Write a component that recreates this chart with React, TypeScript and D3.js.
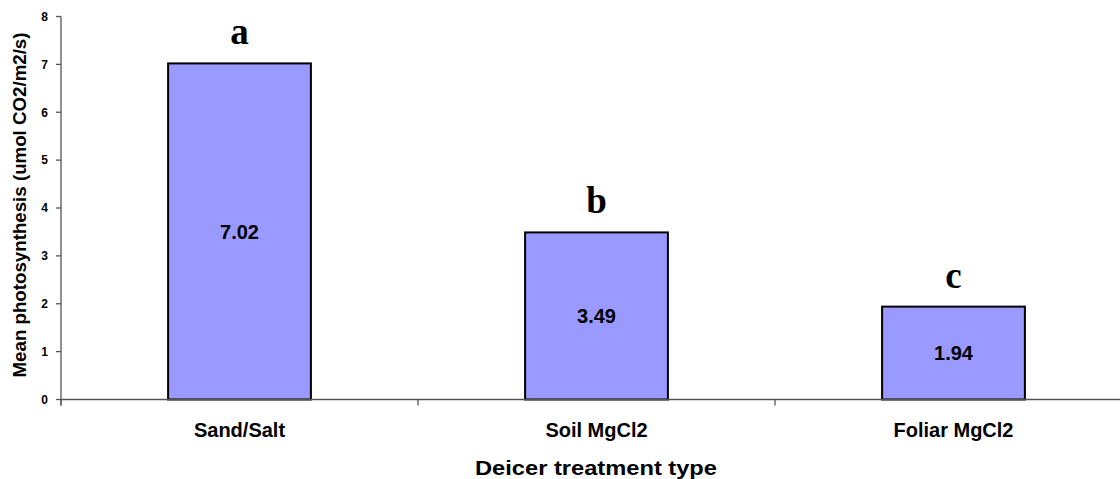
import React from "react";
import * as d3 from "d3";

const categories = ["Sand/Salt", "Soil MgCl2", "Foliar MgCl2"];
const values = [7.02, 3.49, 1.94];
const valueLabels = ["7.02", "3.49", "1.94"];
const groupLetters = ["a", "b", "c"];
const yTicks = [0, 1, 2, 3, 4, 5, 6, 7, 8];

const W = 1120;
const H = 479;

export default function App() {
  const x = d3.scaleBand<string>().domain(categories).range([61, 1132]).padding(0);
  const y = d3.scaleLinear().domain([0, 8]).range([399.5, 16.5]);
  const bw = x.bandwidth() * 0.4;
  const axisColor = "#555";
  const font = "Arial, 'Liberation Sans', sans-serif";
  const boundaries = [...categories.map((c) => x(c)!), 1132];

  return (
    <svg
      width={W}
      height={H}
      style={{ position: "absolute", left: 0, top: 0, background: "#fff" }}
      fontFamily={font}
    >
      <rect x={0} y={0} width={W} height={H} fill="#fff" />
      {/* bars */}
      {categories.map((c, i) => {
        const cx = x(c)! + x.bandwidth() / 2;
        const top = y(values[i]);
        return (
          <g key={c}>
            <rect
              x={cx - bw / 2}
              y={top}
              width={bw}
              height={y(0) - top}
              fill="#9999FF"
              stroke="#000"
              strokeWidth={2}
            />
            <text
              x={cx}
              y={(top + y(0)) / 2}
              dy="0.36em"
              textAnchor="middle"
              fontSize={20}
              fontWeight="bold"
              fill="#000"
            >
              {valueLabels[i]}
            </text>
            <text
              x={cx}
              y={top - 19}
              textAnchor="middle"
              fontSize={37}
              fontWeight="bold"
              fontFamily="'Times New Roman', 'Liberation Serif', serif"
              fill="#000"
            >
              {groupLetters[i]}
            </text>
            <text
              x={cx}
              y={437}
              textAnchor="middle"
              fontSize={20}
              fontWeight="bold"
              fill="#000"
            >
              {c}
            </text>
          </g>
        );
      })}
      {/* y axis */}
      <line x1={61} x2={61} y1={y(8)} y2={y(0) + 6} stroke={axisColor} strokeWidth={1.3} />
      {yTicks.map((t) => (
        <g key={t}>
          <line x1={56} x2={61} y1={y(t)} y2={y(t)} stroke={axisColor} strokeWidth={1.3} />
          <text
            x={48}
            y={y(t)}
            dy="0.36em"
            textAnchor="end"
            fontSize={12}
            fontWeight="bold"
            fill="#000"
          >
            {t}
          </text>
        </g>
      ))}
      {/* x axis */}
      <line x1={61} x2={1132} y1={y(0)} y2={y(0)} stroke={axisColor} strokeWidth={1.3} />
      {boundaries.map((b, i) => (
        <line key={i} x1={b} x2={b} y1={y(0)} y2={y(0) + 6} stroke={axisColor} strokeWidth={1.3} />
      ))}
      {/* axis titles */}
      <text
        x={596}
        y={475}
        textAnchor="middle"
        fontSize={20}
        fontWeight="bold"
        textLength={242}
        lengthAdjust="spacingAndGlyphs"
        fill="#000"
      >
        Deicer treatment type
      </text>
      <text
        transform={`translate(25.5, ${(32 + 378) / 2}) rotate(-90)`}
        textAnchor="middle"
        fontSize={17.5}
        fontWeight="bold"
        textLength={345}
        lengthAdjust="spacingAndGlyphs"
        fill="#000"
      >
        Mean photosynthesis (umol CO2/m2/s)
      </text>
    </svg>
  );
}
